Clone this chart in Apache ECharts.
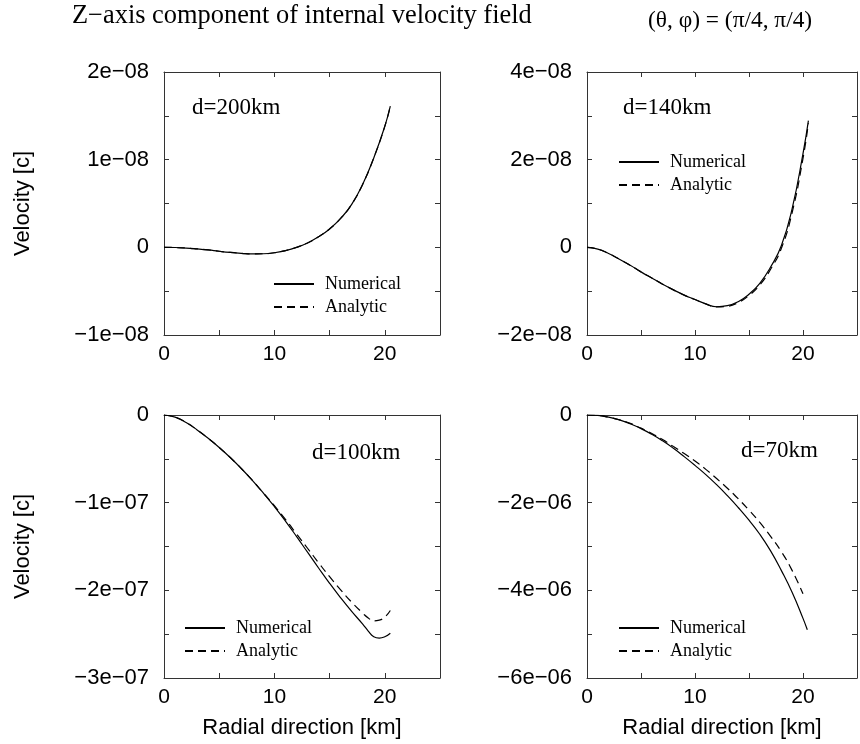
<!DOCTYPE html>
<html>
<head>
<meta charset="utf-8">
<script src="https://cdn.jsdelivr.net/npm/echarts@6/dist/echarts.min.js"></script>
<style>
  html, body { margin: 0; padding: 0; background: #fff; }
  #chart { width: 860px; height: 744px; }
</style>
</head>
<body>
<div id="chart"></div>
<script>
// radial positions [km]
var radius = [0,1,2,3,4,5,6,7,8,9,10,11,12,13,14,15,16,17,18,19,20,20.5];
var radius100 = [0,1,2,3,4,5,6,7,8,9,10,11,12,13,14,15,16,17,18,18.5,19,19.5,20,20.5];
var radius70 = [0,1,2,3,4,5,6,7,8,9,10,11,12,13,14,15,16,17,18,19,20,20.4];
var radius70a = [0,1,2,3,4,5,6,7,8,9,10,11,12,13,14,15,16,17,18,19,20];

// velocities, d=200km and d=140km in 1e-08 c, d=100km in 1e-07 c, d=70km in 1e-06 c
var num200 = [0,-0.002,-0.008,-0.018,-0.03,-0.045,-0.058,-0.068,-0.075,-0.073,-0.062,-0.037,0,0.05,0.12,0.21,0.33,0.49,0.72,1.02,1.38,1.61];
var ana200 = [0,-0.002,-0.008,-0.018,-0.03,-0.045,-0.058,-0.068,-0.075,-0.073,-0.062,-0.037,0,0.05,0.12,0.21,0.33,0.49,0.72,1.02,1.38,1.61];
var num140 = [0,-0.04,-0.14,-0.27,-0.41,-0.56,-0.7,-0.84,-0.97,-1.09,-1.19,-1.29,-1.355,-1.33,-1.24,-1.07,-0.82,-0.45,0.04,0.89,2.14,2.89];
var ana140 = [0,-0.04,-0.14,-0.27,-0.41,-0.56,-0.7,-0.84,-0.97,-1.09,-1.19,-1.29,-1.36,-1.345,-1.26,-1.1,-0.86,-0.5,-0.02,0.8,2.03,2.83];
var num100 = [0,-0.025,-0.085,-0.17,-0.265,-0.37,-0.485,-0.61,-0.745,-0.89,-1.045,-1.21,-1.385,-1.565,-1.745,-1.92,-2.085,-2.24,-2.385,-2.465,-2.53,-2.545,-2.53,-2.49];
var ana100 = [0,-0.025,-0.085,-0.17,-0.265,-0.37,-0.485,-0.61,-0.745,-0.89,-1.035,-1.19,-1.355,-1.52,-1.685,-1.845,-1.995,-2.135,-2.26,-2.315,-2.348,-2.34,-2.305,-2.23];
var num70 = [0,-0.01,-0.05,-0.11,-0.2,-0.31,-0.44,-0.59,-0.76,-0.95,-1.15,-1.36,-1.59,-1.84,-2.11,-2.4,-2.72,-3.1,-3.55,-4.05,-4.64,-4.9];
var ana70 = [0,-0.01,-0.05,-0.11,-0.19,-0.3,-0.42,-0.56,-0.72,-0.88,-1.05,-1.24,-1.45,-1.67,-1.91,-2.17,-2.45,-2.77,-3.12,-3.55,-4.08];

var panelLabels = ['d=200km', 'd=140km', 'd=100km', 'd=70km'];
var legendNames = ['Numerical', 'Analytic'];
var yMin = [-1, -2, -3, -6];
var yMax = [2, 4, 0, 0];
var yTickStep = [0.5, 1, 0.5, 1];
var yLabelStep = [1, 2, 1, 2];
var yExp = ['08', '08', '07', '06'];
var xLabelStep = 10;

var SANS = 'Liberation Sans';
var SERIF = 'Liberation Serif';
var AXIS_COLOR = '#333';

function pairs(xs, ys) {
    var out = [];
    for (var i = 0; i < ys.length; i++) out.push([xs[i], ys[i]]);
    return out;
}

var grids = [
    {left: 164, top: 72, width: 276, height: 263},
    {left: 587, top: 72, width: 276, height: 263},
    {left: 164, top: 415, width: 276, height: 263},
    {left: 587, top: 415, width: 276, height: 263}
];

var xAxes = [], yAxes = [];
grids.forEach(function (g, i) {
    var lineStyle = {color: AXIS_COLOR, width: 1};
    var tick = {inside: true, length: 5, lineStyle: lineStyle};
    // bottom axis with labels
    xAxes.push({
        type: 'value', gridIndex: i, position: 'bottom', min: 0, max: 25, interval: 5,
        axisLine: {onZero: false, lineStyle: lineStyle},
        axisTick: tick,
        splitLine: {show: false},
        axisLabel: {
            margin: 9, fontFamily: SANS, fontSize: 21, color: '#000',
            formatter: function (v) { return (v % xLabelStep === 0 && v < 25) ? String(v) : ''; }
        },
        name: i >= 2 ? 'Radial direction [km]' : '',
        nameLocation: 'middle', nameGap: 39,
        nameTextStyle: {fontFamily: SANS, fontSize: 22, color: '#000'}
    });
    // top mirror
    xAxes.push({
        type: 'value', gridIndex: i, position: 'top', min: 0, max: 25, interval: 5,
        axisLine: {onZero: false, lineStyle: lineStyle},
        axisTick: tick, axisLabel: {show: false}, splitLine: {show: false}
    });
    yAxes.push({
        type: 'value', gridIndex: i, position: 'left', min: yMin[i], max: yMax[i], interval: yTickStep[i],
        axisLine: {onZero: false, lineStyle: lineStyle},
        axisTick: tick,
        splitLine: {show: false},
        axisLabel: {
            margin: 15, fontFamily: SANS, fontSize: 22, color: '#000',
            formatter: function (v) {
                var k = v / yLabelStep[i];
                if (Math.abs(k - Math.round(k)) > 1e-6) return '';
                var r = Math.round(v * 1000) / 1000;
                if (r === 0) return '0';
                return (r < 0 ? '\u2212' : '') + Math.abs(r) + 'e\u2212' + yExp[i];
            }
        },
        name: (i % 2 === 0) ? 'Velocity [c]' : '',
        nameLocation: 'middle', nameGap: 130,
        nameTextStyle: {fontFamily: SANS, fontSize: 22, color: '#000'}
    });
    yAxes.push({
        type: 'value', gridIndex: i, position: 'right', min: yMin[i], max: yMax[i], interval: yTickStep[i],
        axisLine: {onZero: false, lineStyle: lineStyle},
        axisTick: tick, axisLabel: {show: false}, splitLine: {show: false}
    });
});

var curves = [
    [pairs(radius, num200), pairs(radius, ana200)],
    [pairs(radius, num140), pairs(radius, ana140)],
    [pairs(radius100, num100), pairs(radius100, ana100)],
    [pairs(radius70, num70), pairs(radius70a, ana70)]
];

var series = [];
curves.forEach(function (c, i) {
    series.push({
        name: legendNames[0], type: 'line', xAxisIndex: 2 * i, yAxisIndex: 2 * i,
        data: c[0], smooth: 0.5, symbol: 'none',
        lineStyle: {color: '#000', width: 1.2, type: 'solid'}, itemStyle: {color: '#000'}
    });
    series.push({
        name: legendNames[1], type: 'line', xAxisIndex: 2 * i, yAxisIndex: 2 * i,
        data: c[1], smooth: 0.5, symbol: 'none',
        lineStyle: {color: '#000', width: 1.2, type: [8, 5]}, itemStyle: {color: '#000'}
    });
});

var legendPos = [
    {left: 268, top: 270},
    {left: 613, top: 148},
    {left: 179, top: 614},
    {left: 613, top: 614}
];
var legends = legendPos.map(function (p) {
    return {
        left: p.left, top: p.top, orient: 'vertical', data: legendNames,
        itemWidth: 40, itemHeight: 14, itemGap: 5, selectedMode: false,
        itemStyle: {opacity: 0},
        textStyle: {fontFamily: SERIF, fontSize: 18, color: '#000', padding: [0, 0, 0, 6]}
    };
});

var labelPos = [
    {left: 192, top: 96},
    {left: 623, top: 96},
    {left: 312, top: 441},
    {left: 741, top: 439}
];
var titles = [
    {text: 'Z\u2212axis component of internal velocity field', left: 72, top: 3, padding: 0,
     textStyle: {fontFamily: SERIF, fontSize: 26.4, fontWeight: 'normal', color: '#000'}},
    {text: '(\u03b8, \u03c6) = (\u03c0/4, \u03c0/4)', left: 648, top: 9, padding: 0,
     textStyle: {fontFamily: SERIF, fontSize: 23.4, fontWeight: 'normal', color: '#000'}}
];
panelLabels.forEach(function (t, i) {
    titles.push({
        text: t, left: labelPos[i].left, top: labelPos[i].top, padding: 0,
        textStyle: {fontFamily: SERIF, fontSize: 23, fontWeight: 'normal', color: '#000'}
    });
});

var chart = echarts.init(document.getElementById('chart'), null, {renderer: 'canvas'});
chart.setOption({
    backgroundColor: '#fff',
    animation: false,
    title: titles,
    legend: legends,
    grid: grids,
    xAxis: xAxes,
    yAxis: yAxes,
    series: series
});
</script>
</body>
</html>
